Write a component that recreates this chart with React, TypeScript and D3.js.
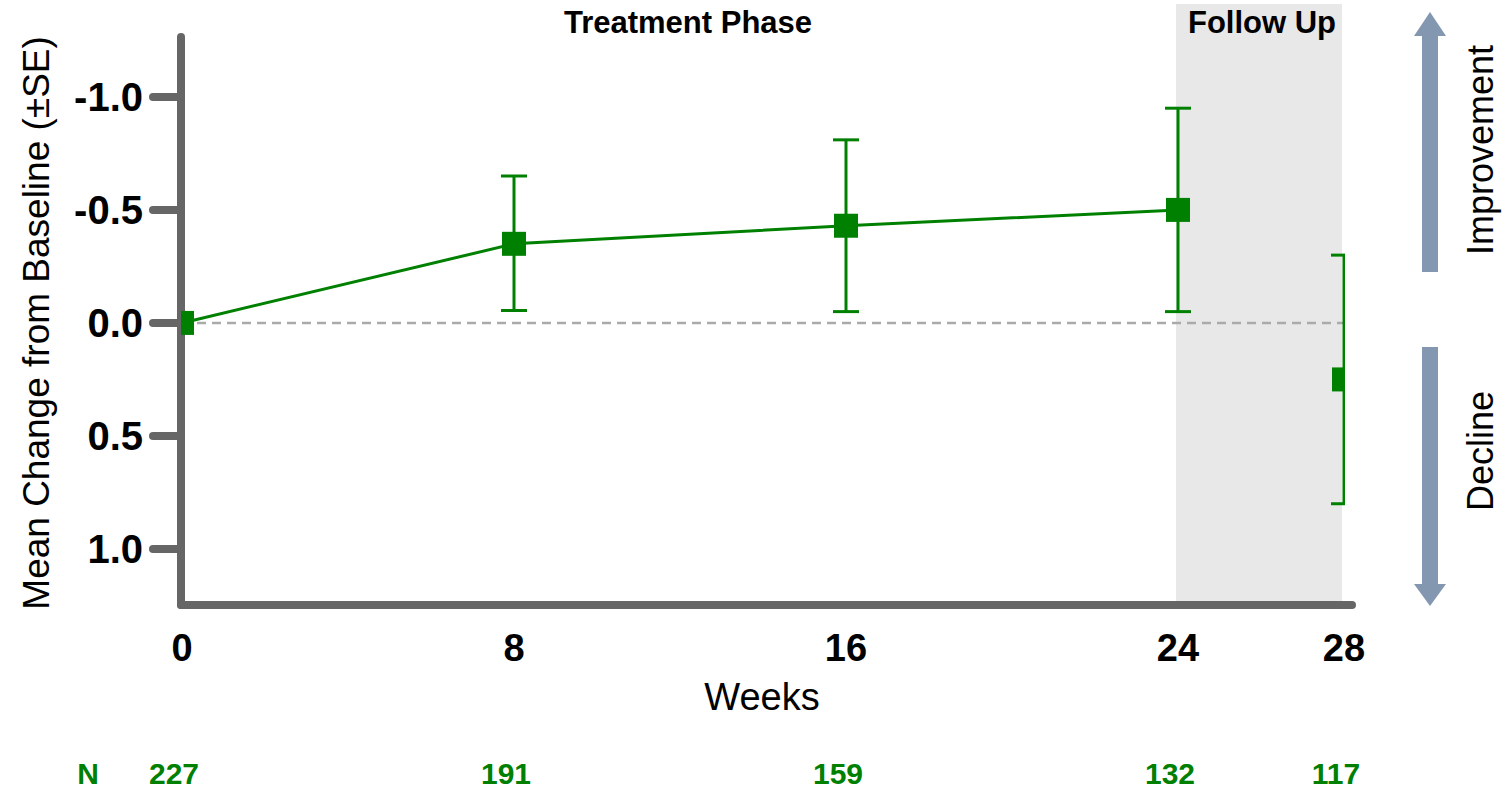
import React from 'react';
import * as d3 from 'd3';

const weeks = [0, 8, 16, 24, 28];
const meanChange = [0, -0.35, -0.43, -0.5, 0.25];
const seUpper = [0, -0.65, -0.81, -0.95, -0.3];
const seLower = [0, -0.055, -0.05, -0.05, 0.8];
const nCounts = [227, 191, 159, 132, 117];
const yTicks = [-1.0, -0.5, 0.0, 0.5, 1.0];

const WIDTH = 1503;
const HEIGHT = 794;
const GREEN = '#008000';
const AXIS = '#666666';
const ARROW = '#8497b0';
const FONT = 'Liberation Sans, Arial, Helvetica, sans-serif';

export default function App() {
  const x = d3.scaleLinear().domain([0, 28]).range([182, 1344]);
  const y = d3.scaleLinear().domain([-1.265, 1.248]).range([37, 605]);

  const line = d3
    .line<number>()
    .x((_, i) => x(weeks[i]))
    .y((d) => y(d));

  // only the treatment-phase points are joined
  const joined = meanChange.slice(0, 4);

  const fmt = (v: number) => d3.format('.1f')(v).replace('−', '-');
  const marker = 24;
  const cap = 13;

  const plotLeft = x(0) - 1;
  const plotRight = x(28) + 1;

  return (
    <svg
      width={WIDTH}
      height={HEIGHT}
      style={{ position: 'absolute', left: 0, top: 0, background: '#fff' }}
      fontFamily={FONT}
    >
      <defs>
        <clipPath id="plot-clip">
          <rect x={plotLeft} y={0} width={plotRight - plotLeft} height={HEIGHT} />
        </clipPath>
      </defs>

      {/* follow up band */}
      <rect
        x={x(24) - 2}
        y={4}
        width={x(28) - x(24)}
        height={y.range()[1] - 4}
        fill="#e8e8e8"
      />

      <text x={688} y={33} textAnchor="middle" fontSize={31} fontWeight="bold">
        Treatment Phase
      </text>
      <text x={1262} y={33} textAnchor="middle" fontSize={31} fontWeight="bold">
        Follow Up
      </text>

      {/* zero reference */}
      <line
        x1={x(0)}
        x2={plotRight}
        y1={y(0)}
        y2={y(0)}
        stroke="#aaaaaa"
        strokeWidth={2.5}
        strokeDasharray="9,6"
      />

      {/* axes */}
      <line x1={181} x2={181} y1={y.range()[0]} y2={y.range()[1]} stroke={AXIS} strokeWidth={8} strokeLinecap="round" />
      <line x1={181} x2={1352} y1={y.range()[1]} y2={y.range()[1]} stroke={AXIS} strokeWidth={8} strokeLinecap="round" />
      {yTicks.map((t) => (
        <g key={t}>
          <line x1={153} x2={181} y1={y(t)} y2={y(t)} stroke={AXIS} strokeWidth={8} strokeLinecap="round" />
          <text x={143} y={y(t)} dy="0.36em" textAnchor="end" fontSize={40} fontWeight="bold">
            {fmt(t)}
          </text>
        </g>
      ))}
      {weeks.map((w) => (
        <text key={w} x={x(w)} y={661} textAnchor="middle" fontSize={38} fontWeight="bold">
          {w}
        </text>
      ))}

      <text x={762} y={710} textAnchor="middle" fontSize={38}>
        Weeks
      </text>
      <text
        transform={`translate(49,${y(0)}) rotate(-90)`}
        textAnchor="middle"
        fontSize={37}
      >
        Mean Change from Baseline (±SE)
      </text>

      {/* series */}
      <g clipPath="url(#plot-clip)">
        <path d={line(joined) ?? ''} fill="none" stroke={GREEN} strokeWidth={3} />
        {weeks.map((w, i) =>
          i === 0 ? null : (
            <g key={w} stroke={GREEN} strokeWidth={3}>
              <line x1={x(w)} x2={x(w)} y1={y(seUpper[i])} y2={y(seLower[i])} />
              <line x1={x(w) - cap} x2={x(w) + cap} y1={y(seUpper[i])} y2={y(seUpper[i])} />
              <line x1={x(w) - cap} x2={x(w) + cap} y1={y(seLower[i])} y2={y(seLower[i])} />
            </g>
          )
        )}
        {weeks.map((w, i) => (
          <rect
            key={w}
            x={x(w) - marker / 2}
            y={y(meanChange[i]) - marker / 2}
            width={marker}
            height={marker}
            fill={GREEN}
          />
        ))}
      </g>

      {/* direction arrows */}
      <path
        d="M1430,12 L1446,36 L1438,36 L1438,272 L1422,272 L1422,36 L1414,36 Z"
        fill={ARROW}
      />
      <path
        d="M1430,606 L1446,584 L1438,584 L1438,347 L1422,347 L1422,584 L1414,584 Z"
        fill={ARROW}
      />
      <text transform="translate(1493,150) rotate(-90)" textAnchor="middle" fontSize={36}>
        Improvement
      </text>
      <text transform="translate(1493,451) rotate(-90)" textAnchor="middle" fontSize={36}>
        Decline
      </text>

      {/* patient counts */}
      <text x={88} y={784} textAnchor="middle" fontSize={30} fontWeight="bold" fill={GREEN}>
        N
      </text>
      {weeks.map((w, i) => (
        <text key={w} x={x(w) - 8} y={784} textAnchor="middle" fontSize={30} fontWeight="bold" fill={GREEN}>
          {nCounts[i]}
        </text>
      ))}
    </svg>
  );
}
